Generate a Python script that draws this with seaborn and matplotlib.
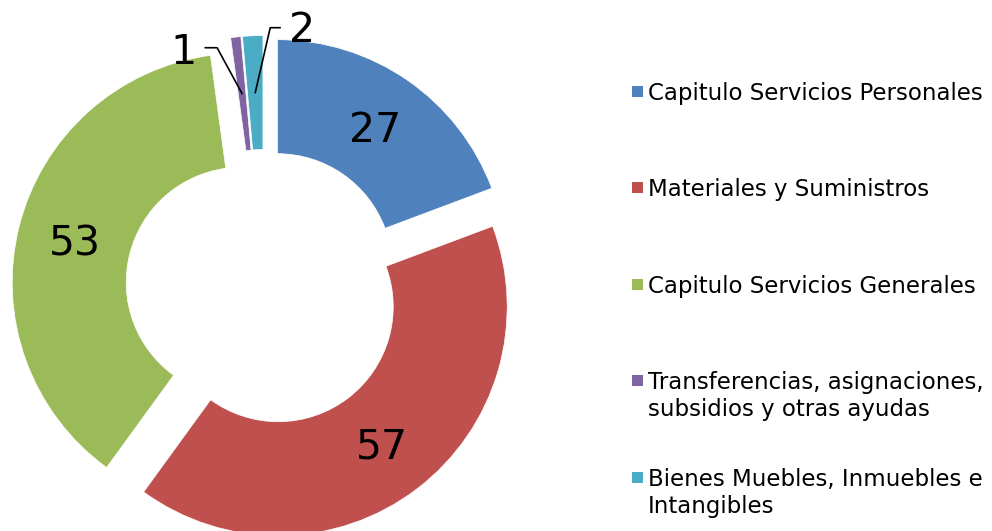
import numpy as np
import seaborn as sns
import matplotlib.pyplot as plt
from matplotlib.patches import Rectangle

# --- Data ---
categories = [
    "Capitulo Servicios Personales",
    "Materiales y Suministros",
    "Capitulo Servicios Generales",
    "Transferencias, asignaciones,\nsubsidios y otras ayudas",
    "Bienes Muebles, Inmuebles e\nIntangibles",
]
values = [27, 57, 53, 1, 2]
colors = ["#4F81BD", "#C0504D", "#9BBB59", "#8064A2", "#4BACC6"]

sns.set_style("white")
plt.rcParams["font.family"] = ["DejaVu Sans"]

W, H = 992, 531
fig = plt.figure(figsize=(W / 100, H / 100), dpi=100)
ax = fig.add_axes([0, 0, 1, 1])

# pie geometry in pixel units (y up)
R = 229
ring = 114
wedges, _ = ax.pie(values, colors=colors, radius=R, center=(264, H - 288),
                   startangle=90, counterclock=False, explode=[23.5] * len(values),
                   wedgeprops=dict(width=ring, edgecolor="white", linewidth=0.5),
                   frame=True)
ax.set_xlim(0, W)
ax.set_ylim(0, H)
ax.set_aspect("equal")
ax.axis("off")

label_size = 29.5
cap = label_size * 100 / 72 * 0.73

# small slices get leader lines: (elbow, line end, text) offsets from anchor
leaders = {
    3: [(-25, 46), (-37, 46), (-59, 45)],
    4: [(15, 65), (25, 65), (47, 66)],
}

for i, (w, v) in enumerate(zip(wedges, values)):
    mid = np.deg2rad((w.theta1 + w.theta2) / 2)
    cx, cy = w.center
    r = w.r - w.width / 2
    px, py = cx + r * np.cos(mid), cy + r * np.sin(mid)
    if i in leaders:
        (ex, ey), (lx, ly), (tx, ty) = leaders[i]
        ax.plot([px, px + ex, px + lx], [py, py + ey, py + ly], color="black", lw=1.2)
        ax.text(px + tx, py + ty - cap / 2, str(v), fontsize=label_size,
                ha="center", va="baseline", color="black")
    else:
        ax.text(px, py - cap / 2, str(v), fontsize=label_size,
                ha="center", va="baseline", color="black")

# --- Legend (marker aligned with the first text line) ---
leg_size = 16.5
leg_em = leg_size * 100 / 72
for i, (name, c) in enumerate(zip(categories, colors)):
    y = H - (91 + 96.5 * i)
    ax.add_patch(Rectangle((632, y - 5.5), 11, 11, color=c, lw=0))
    ax.text(648, y + 0.395 * leg_em, name, fontsize=leg_size, ha="left",
            va="top", linespacing=1.2, color="black")

fig.savefig("out.png", dpi=100)
